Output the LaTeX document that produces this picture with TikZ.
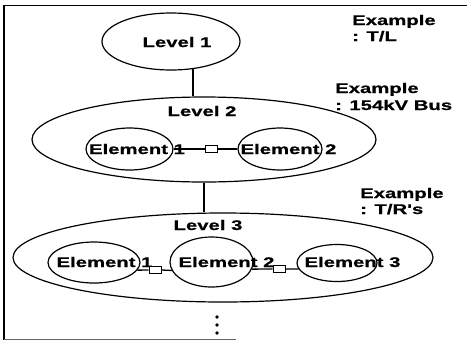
\documentclass[tikz,border=0pt]{standalone}
\usepackage{fontspec}
\newfontfamily\lblfam[FakeStretch=1.45,FakeBold=0.6]{Liberation Sans}
\usetikzlibrary{shapes.geometric}
\begin{document}
\begin{tikzpicture}[x=1pt,y=-1pt,
  ell/.style={draw, ellipse, line width=1.2pt, inner sep=0pt},
  txt/.style={font=\lblfam\bfseries\fontsize{14}{16}\selectfont, inner sep=0pt},
  sq/.style={draw, rectangle, line width=1pt, minimum width=12pt, minimum height=7pt, inner sep=0pt, fill=white},
  conn/.style={line width=1.3pt}]
\useasboundingbox (0,0) rectangle (468,341);
% frame
\draw[line width=1.5pt] (4,5) -- (4,340);
\draw[line width=1pt] (4,5) -- (467,5);
\draw[line width=1pt, black!60] (4,339) -- (236,339);
% level 1
\node[ell, minimum width=138pt, minimum height=57pt] (L1) at (171,41.5) {};
\node[txt] (L1t) at (177,42) {Level 1};
% level 2
\node[ell, minimum width=344pt, minimum height=85pt] (L2) at (204,139.5) {};
\node[txt] (L2t) at (202,111) {Level 2};
\node[ell, minimum width=87pt, minimum height=42pt] (E21) at (129.5,149) {};
\node[txt] (E21t) at (137,149) {Element 1};
\node[ell, minimum width=84pt, minimum height=42pt] (E22) at (280,149) {};
\node[txt] (E22t) at (288.5,149) {Element 2};
\node[sq] (q21) at (211,149) {};
\draw[conn] (E21.east) -- (q21.west);
\draw[conn] (q21.east) -- (E22.west);
% level 3
\node[ell, minimum width=420pt, minimum height=89pt] (L3) at (223,257.5) {};
\node[txt] (L3t) at (208,225) {Level 3};
\node[ell, minimum width=92pt, minimum height=41pt] (E31) at (94,262.5) {};
\node[txt] (E31t) at (104.5,262) {Element 1};
\node[ell, minimum width=83pt, minimum height=50pt] (E32) at (211.5,262) {};
\node[txt] (E32t) at (226.5,262) {Element 2};
\node[ell, minimum width=80pt, minimum height=37pt] (E33) at (337,263) {};
\node[txt] (E33t) at (352.5,262) {Element 3};
\node[sq] (q31) at (155,270) {};
\node[sq] (q32) at (279,269) {};
\draw[conn] (E31.-10) -- (q31.west);
\draw[conn] (q31.east) -- (E32.-168.5);
\draw[conn] (E32.-10) -- (q32.west);
\draw[conn] (q32.east) -- (E33.-171);
% level connectors
\coordinate (c1) at (193,0);
\draw[conn] (L1.-52 -| c1) -- (c1 |- L2.north);
\draw[conn] (L2.south) -- (L2.south |- L3.north);
% dots
\fill (217,317) circle (1.8pt);
\fill (217,325) circle (1.8pt);
\fill (217,333) circle (1.8pt);
% examples
\node[txt, anchor=base west] (ex1a) at (352,25) {Example};
\node[txt, anchor=base west] (ex1b) at (352,41) {: T/L};
\node[txt, anchor=base west] (ex2a) at (335,93) {Example};
\node[txt, anchor=base west] (ex2b) at (335,110) {: 154kV Bus};
\node[txt, anchor=base west] (ex3a) at (360,198) {Example};
\node[txt, anchor=base west] (ex3b) at (360,214) {: T/R's};
\end{tikzpicture}
\end{document}
